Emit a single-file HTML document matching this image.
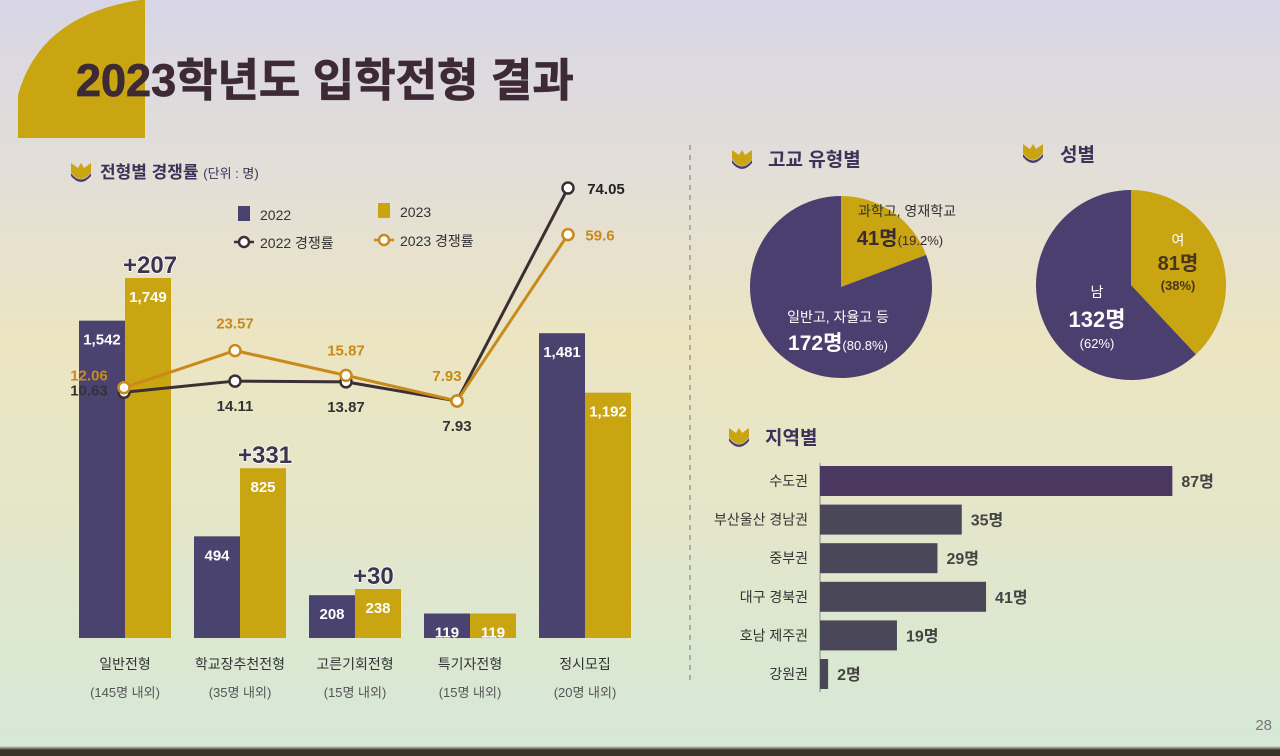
<!DOCTYPE html>
<html><head><meta charset="utf-8">
<style>
html,body{margin:0;padding:0;width:1280px;height:756px;overflow:hidden}
body{background:linear-gradient(180deg,#d8d6e6 0px,#e4dfd6 190px,#ece5c2 340px,#e6e6c8 490px,#d8e8d4 700px,#d6e8d6 746px,#3a3428 750px);font-family:"Liberation Sans","Noto Sans CJK KR",sans-serif}
svg text{font-family:"Liberation Sans","Noto Sans CJK KR",sans-serif}
</style></head>
<body>
<svg id="s" width="1280" height="756" viewBox="0 0 1280 756">
  <path d="M18 138 L18 95 Q40 15 140 0 L145 0 L145 138 Z" fill="#c9a512"/>
  <text x="76" y="96" font-size="45" font-weight="bold" fill="#3d2a34" stroke="#3d2a34" stroke-width="0.8">2023학년도 입학전형 결과</text>
  <line x1="690" y1="145" x2="690" y2="685" stroke="#777" stroke-dasharray="5,5"/>
  <g><path d="M71 163 L78 168 L81 163 L84 168 L91 163 L91 172 Q81 186 71 172 Z" fill="#c9a512"/><path d="M71 173 Q81 186 91 173 L91 176 Q81 188 71 176 Z" fill="#4a3f6e"/></g>
  <text x="100" y="178" font-size="17" font-weight="bold" fill="#3b3358">전형별 경쟁률 <tspan font-size="13" font-weight="normal">(단위 : 명)</tspan></text>
  <g>
    <rect x="238" y="206" width="12" height="15" fill="#4a4370"/>
    <text x="260" y="220" font-size="14" fill="#333">2022</text>
    <rect x="378" y="203" width="12" height="15" fill="#c9a512"/>
    <text x="400" y="217" font-size="14" fill="#333">2023</text>
    <line x1="234" y1="242" x2="254" y2="242" stroke="#3c2f33" stroke-width="2.5"/><circle cx="244" cy="242" r="5" fill="#fff" stroke="#3c2f33" stroke-width="2.5"/>
    <text x="260" y="248" font-size="14" fill="#333">2022 경쟁률</text>
    <line x1="374" y1="240" x2="394" y2="240" stroke="#c98a1a" stroke-width="2.5"/><circle cx="384" cy="240" r="5" fill="#fff" stroke="#c98a1a" stroke-width="2.5"/>
    <text x="400" y="246" font-size="14" fill="#333">2023 경쟁률</text>
  </g>
  <g id="combo"></g>
  <g><path d="M732 150 L739 155 L742 150 L745 155 L752 150 L752 159 Q742 173 732 159 Z" fill="#c9a512"/><path d="M732 160 Q742 173 752 160 L752 163 Q742 175 732 163 Z" fill="#4a3f6e"/></g>
  <text x="768" y="166" font-size="19" font-weight="bold" fill="#3b3358">고교 유형별</text>
  <g><path d="M1023 144 L1030 149 L1033 144 L1036 149 L1043 144 L1043 153 Q1033 167 1023 153 Z" fill="#c9a512"/><path d="M1023 154 Q1033 167 1043 154 L1043 157 Q1033 169 1023 157 Z" fill="#4a3f6e"/></g>
  <text x="1060" y="161" font-size="19" font-weight="bold" fill="#3b3358">성별</text>
  <g id="pies"></g>
  <g><path d="M729 428 L736 433 L739 428 L742 433 L749 428 L749 437 Q739 451 729 437 Z" fill="#c9a512"/><path d="M729 438 Q739 451 749 438 L749 441 Q739 453 729 441 Z" fill="#4a3f6e"/></g>
  <text x="765" y="444" font-size="19" font-weight="bold" fill="#3b3358">지역별</text>
  <line x1="820" y1="463" x2="820" y2="692" stroke="#888"/>
  <g id="region"></g>
  <text x="1272" y="730" font-size="15" fill="#777" text-anchor="end">28</text>
</svg>
<script>
const NS="http://www.w3.org/2000/svg";
function mk(p,tag,attrs,txt){const e=document.createElementNS(NS,tag);for(const k in attrs)e.setAttribute(k,attrs[k]);if(txt!==undefined)e.textContent=txt;p.appendChild(e);return e;}

const categories=["일반전형","학교장추천전형","고른기회전형","특기자전형","정시모집"];
const quotas=["(145명 내외)","(35명 내외)","(15명 내외)","(15명 내외)","(20명 내외)"];
const applicants2022=[1542,494,208,119,1481];
const applicants2023=[1749,825,238,119,1192];
const increases=["+207","+331","+30","",""];
const rate2022=[10.63,14.11,13.87,7.93,74.05];
const rate2023=[12.06,23.57,15.87,7.93,59.6];

const fmt=v=>v.toLocaleString("en-US");
const xC=i=>125+i*115;
const yBar=v=>638-v*0.2058;
const yRate=v=>426.5-v*3.22;
const combo=document.getElementById("combo");
categories.forEach((c,i)=>{
  const cx=xC(i),w=46;
  let r=mk(combo,"rect",{x:cx-w,y:yBar(applicants2022[i]),width:w,height:638-yBar(applicants2022[i]),fill:"#4a4370"});
  
  
  r=mk(combo,"rect",{x:cx,y:yBar(applicants2023[i]),width:w,height:638-yBar(applicants2023[i]),fill:"#c9a512"});
  
  
  let t=mk(combo,"text",{x:cx-w/2,y:yBar(applicants2022[i])+24,"font-size":15,fill:"#fff","text-anchor":"middle","font-weight":"bold"},fmt(applicants2022[i]));
  
  
  t=mk(combo,"text",{x:cx+w/2,y:yBar(applicants2023[i])+24,"font-size":15,fill:"#fff","text-anchor":"middle","font-weight":"bold"},fmt(applicants2023[i]));
  
  
  if(increases[i]){
    t=mk(combo,"text",{x:cx+w/2-25,y:yBar(applicants2023[i])-5,"font-size":24,"font-weight":"bold",fill:"#3b3350",stroke:"#fff","stroke-width":1.5,"paint-order":"stroke"},increases[i]);
    
    
  }
  t=mk(combo,"text",{x:cx,y:669,"font-size":14,fill:"#333","text-anchor":"middle"},c);
  
  
  t=mk(combo,"text",{x:cx,y:697,"font-size":13,fill:"#555","text-anchor":"middle"},quotas[i]);
  
  
});
const xL=i=>124+i*111;
function line(arr,color,name){
  const pts=arr.map((v,i)=>xL(i)+","+yRate(v)).join(" ");
  const pl=mk(combo,"polyline",{points:pts,fill:"none",stroke:color,"stroke-width":3});
  
  
  arr.forEach((v,i)=>{
    const c=mk(combo,"circle",{cx:xL(i),cy:yRate(v),r:5.5,fill:"#fff",stroke:color,"stroke-width":2.5});
    
    
  });
}
line(rate2022,"#3c2f33","rate-2022");
line(rate2023,"#c98a1a","rate-2023");
const lab2022=[[-35,44,"#333"],[0,30,"#333"],[0,30,"#333"],[0,30,"#333"],[38,6,"#222"]];
const lab2023=[[-35,-7,"#c98a1a"],[0,-22,"#c98a1a"],[0,-20,"#c98a1a"],[-10,-20,"#c98a1a"],[32,6,"#c98a1a"]];
rate2022.forEach((v,i)=>{
  const t=mk(combo,"text",{x:xL(i)+lab2022[i][0],y:yRate(v)+(i==0?3:lab2022[i][1]),"font-size":15,"font-weight":"bold",fill:lab2022[i][2],"text-anchor":"middle"},v.toFixed(2));
  
  
});
rate2023.forEach((v,i)=>{
  const t=mk(combo,"text",{x:xL(i)+lab2023[i][0],y:yRate(v)+lab2023[i][1],"font-size":15,"font-weight":"bold",fill:lab2023[i][2],"text-anchor":"middle"},String(v));
  
  
});

const schoolTypes=["과학고, 영재학교","일반고, 자율고 등"];
const schoolCounts=[41,172];
const genders=["여","남"];
const genderCounts=[81,132];
const pies=document.getElementById("pies");
function pie(cx,cy,r,vals,colors,name){
  const tot=vals.reduce((a,b)=>a+b,0);let a0=0;
  vals.forEach((v,i)=>{
    const a1=a0+v/tot*2*Math.PI;
    const p=(a)=>[cx+r*Math.sin(a),cy-r*Math.cos(a)];
    const [x0,y0]=p(a0),[x1,y1]=p(a1);
    const el=mk(pies,"path",{d:`M${cx},${cy} L${x0},${y0} A${r},${r} 0 ${a1-a0>Math.PI?1:0} 1 ${x1},${y1} Z`,fill:colors[i]});
    
    
    a0=a1;
  });
}
pie(841,287,91,schoolCounts,["#c9a512","#4a3f6e"],"school-pie");
pie(1131,285,95,genderCounts,["#c9a512","#4a3f6e"],"gender-pie");
const pct=(v,arr)=>(v/arr.reduce((a,b)=>a+b,0)*100);
function ptxt(x,y,size,w,fill,txt,name){const t=mk(pies,"text",{x:x,y:y,"font-size":size,"font-weight":w,fill:fill,"text-anchor":"middle"},txt);return t;}
ptxt(907,216,14,"normal","#333",schoolTypes[0],"school-label-0");
let t=ptxt(900,245,20,"bold","#3b2a30",schoolCounts[0]+"명","school-value-0");
mk(t,"tspan",{"font-size":13,"font-weight":"normal"},"("+pct(schoolCounts[0],schoolCounts).toFixed(1)+"%)");
ptxt(838,322,14,"normal","#fff",schoolTypes[1],"school-label-1");
t=ptxt(838,350,21,"bold","#fff",schoolCounts[1]+"명","school-value-1");
mk(t,"tspan",{"font-size":13,"font-weight":"normal"},"("+pct(schoolCounts[1],schoolCounts).toFixed(1)+"%)");
ptxt(1178,245,14,"normal","#fff",genders[0],"gender-label-0");
ptxt(1178,270,20,"bold","#4a3520",genderCounts[0]+"명","gender-value-0");
ptxt(1178,290,13,"bold","#4a3520","("+Math.round(pct(genderCounts[0],genderCounts))+"%)","gender-pct-0");
ptxt(1097,297,14,"normal","#fff",genders[1],"gender-label-1");
ptxt(1097,327,22,"bold","#fff",genderCounts[1]+"명","gender-value-1");
ptxt(1097,348,13,"normal","#fff","("+Math.round(pct(genderCounts[1],genderCounts))+"%)","gender-pct-1");

const regions=["수도권","부산울산 경남권","중부권","대구 경북권","호남 제주권","강원권"];
const regionCounts=[87,35,29,41,19,2];
const reg=document.getElementById("region");
const xR=v=>820+v*4.05;
regions.forEach((r,i)=>{
  const cy=481+i*38.6;
  const b=mk(reg,"rect",{x:820,y:cy-15,width:xR(regionCounts[i])-820,height:30,fill:i==0?"#4a3860":"#4a4858"});
  
  
  let t=mk(reg,"text",{x:808,y:cy+5,"font-size":14,fill:"#333","text-anchor":"end"},r);
  
  
  t=mk(reg,"text",{x:xR(regionCounts[i])+9,y:cy+6,"font-size":16,"font-weight":"bold",fill:"#444"},regionCounts[i]+"명");
  
  
});
</script>
</body></html>
